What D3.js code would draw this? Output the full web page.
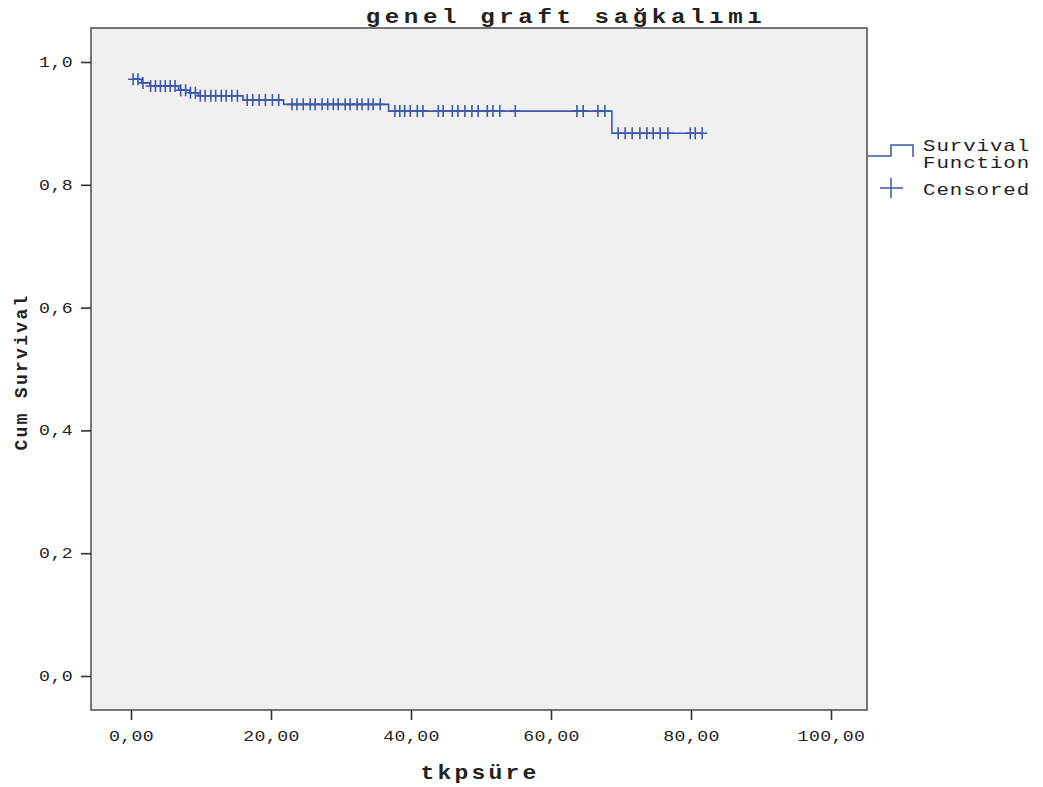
<!DOCTYPE html>
<html>
<head>
<meta charset="utf-8">
<script src="https://cdn.jsdelivr.net/npm/d3@7"></script>
<style>
  body { margin: 0; background: #fff; }
  text { font-family: "Liberation Mono", "DejaVu Sans Mono", monospace; fill: #222; }
</style>
</head>
<body>
<svg id="chart" width="1043" height="787"></svg>
<script>
// Kaplan-Meier steps (time in months, survival after the drop)
const startSurv = 0.972;
const eventTimes = [1.5, 2.7, 6.8, 8.4, 9.6, 16.0, 21.8, 36.8, 68.7];
const eventSurv  = [0.966, 0.961, 0.954, 0.950, 0.945, 0.938, 0.931, 0.920, 0.884];
const endTime = 81.6;

// censored cases (+ marks)
const censoredTimes = [
  0.3, 1.0, 1.7,
  2.8, 3.5, 4.2, 4.9, 5.6, 6.3,
  7.1, 7.8, 8.5, 9.2,
  9.9, 10.6, 11.4, 12.1, 12.9, 13.6, 14.4, 15.2,
  16.6, 17.4, 18.3, 19.2, 20.2, 21.1,
  23.0, 23.7, 24.6, 25.6, 26.3, 27.3, 28.1, 28.9, 29.6, 30.6, 31.3, 32.3, 33.0, 33.9, 34.6, 35.6,
  37.7, 38.4, 39.1, 39.9, 40.9, 41.7, 43.9, 44.6, 45.9, 46.7, 47.7, 48.7, 49.6, 50.9, 51.7, 52.7, 54.9,
  63.7, 64.6, 66.7, 67.7,
  69.6, 70.6, 71.6, 72.7, 73.7, 74.6, 75.6, 76.7, 79.9, 80.6, 81.6
];

const xTicks = [0, 20, 40, 60, 80, 100];
const yTicks = [0, 0.2, 0.4, 0.6, 0.8, 1.0];

const title = "genel graft sağkalımı";
const xTitle = "tkpsüre";
const yTitle = "Cum Survival";
const legendLabels = ["Survival", "Function", "Censored"];

const blue = "#3d57ab";
const axisColor = "#333";
const wide = 1.3; // the original text is stretched sideways

const svg = d3.select("#chart");

const frame = { left: 91, right: 867, top: 28, bottom: 710 };

const x = d3.scaleLinear().domain([0, 100]).range([131, 831]);
const y = d3.scaleLinear().domain([0, 1]).range([676, 62]);

const comma = (v, d) => v.toFixed(d).replace(".", ",");

// plot background
svg.append("rect")
  .attr("x", frame.left).attr("y", frame.top)
  .attr("width", frame.right - frame.left)
  .attr("height", frame.bottom - frame.top)
  .attr("fill", "#f0f0f0")
  .attr("stroke", "#555")
  .attr("stroke-width", 1.6);

// y axis
const yAxis = svg.append("g")
  .attr("transform", `translate(${frame.left},0)`)
  .call(d3.axisLeft(y).tickValues(yTicks).tickSize(10)
    .tickFormat(d => comma(d, 1)));
yAxis.select(".domain").remove();
yAxis.selectAll(".tick line").attr("stroke", axisColor).attr("stroke-width", 1.6);
yAxis.selectAll(".tick text")
  .style("font-family", '"Liberation Mono", monospace')
  .attr("font-size", 14).attr("letter-spacing", 0.3).attr("fill", "#333")
  .attr("x", -18 / wide)
  .attr("transform", `scale(${wide},1)`);

// x axis
const xAxis = svg.append("g")
  .attr("transform", `translate(0,${frame.bottom})`)
  .call(d3.axisBottom(x).tickValues(xTicks).tickSize(10).tickPadding(11)
    .tickFormat(d => comma(d, 2)));
xAxis.select(".domain").remove();
xAxis.selectAll(".tick line").attr("stroke", axisColor).attr("stroke-width", 1.6);
xAxis.selectAll(".tick text")
  .style("font-family", '"Liberation Mono", monospace')
  .attr("font-size", 14).attr("letter-spacing", 0.3).attr("fill", "#333")
  .attr("transform", `scale(${wide},1)`);

// survival step function
const steps = [[0.3, startSurv]];
eventTimes.forEach((t, i) => steps.push([t, eventSurv[i]]));
steps.push([endTime, eventSurv[eventSurv.length - 1]]);

const survAt = t => {
  let s = startSurv;
  eventTimes.forEach((et, i) => { if (et <= t) s = eventSurv[i]; });
  return s;
};

svg.append("path")
  .datum(steps)
  .attr("fill", "none")
  .attr("stroke", blue)
  .attr("stroke-width", 1.6)
  .attr("d", d3.line().x(d => x(d[0])).y(d => y(d[1])).curve(d3.curveStepAfter));

svg.append("g").selectAll("path")
  .data(censoredTimes)
  .join("path")
  .attr("fill", "none")
  .attr("stroke", blue)
  .attr("stroke-width", 1.6)
  .attr("d", t => {
    const cx = x(t), cy = y(survAt(t));
    return `M${cx - 5},${cy}H${cx + 5}M${cx},${cy - 6}V${cy + 6}`;
  });

// titles
svg.append("text")
  .attr("transform", `translate(566,23) scale(1.15,1)`)
  .attr("text-anchor", "middle")
  .attr("font-size", 21).attr("font-weight", "bold").attr("letter-spacing", 4)
  .attr("fill", "#111")
  .text(title);

svg.append("text")
  .attr("transform", `translate(480,779) scale(1.15,1)`)
  .attr("text-anchor", "middle")
  .attr("font-size", 20).attr("font-weight", "bold").attr("letter-spacing", 2.8)
  .attr("fill", "#111")
  .text(xTitle);

svg.append("text")
  .attr("transform", "translate(27,372) rotate(-90)")
  .attr("text-anchor", "middle")
  .attr("font-size", 18).attr("font-weight", "bold").attr("letter-spacing", 2.3)
  .attr("fill", "#111")
  .text(yTitle);

// legend
const legend = svg.append("g");
legend.append("path")
  .attr("fill", "none").attr("stroke", blue).attr("stroke-width", 1.5)
  .attr("d", "M868,156H891V145H913V157");
legend.append("path")
  .attr("fill", "none").attr("stroke", blue).attr("stroke-width", 1.5)
  .attr("d", "M880,188H903M891,178V198");

legend.selectAll("text")
  .data(legendLabels)
  .join("text")
  .attr("transform", (d, i) => `translate(923,${[151, 168, 195][i]}) scale(${wide},1)`)
  .attr("font-size", 16).attr("letter-spacing", 0.7)
  .text(d => d);
</script>
</body>
</html>
